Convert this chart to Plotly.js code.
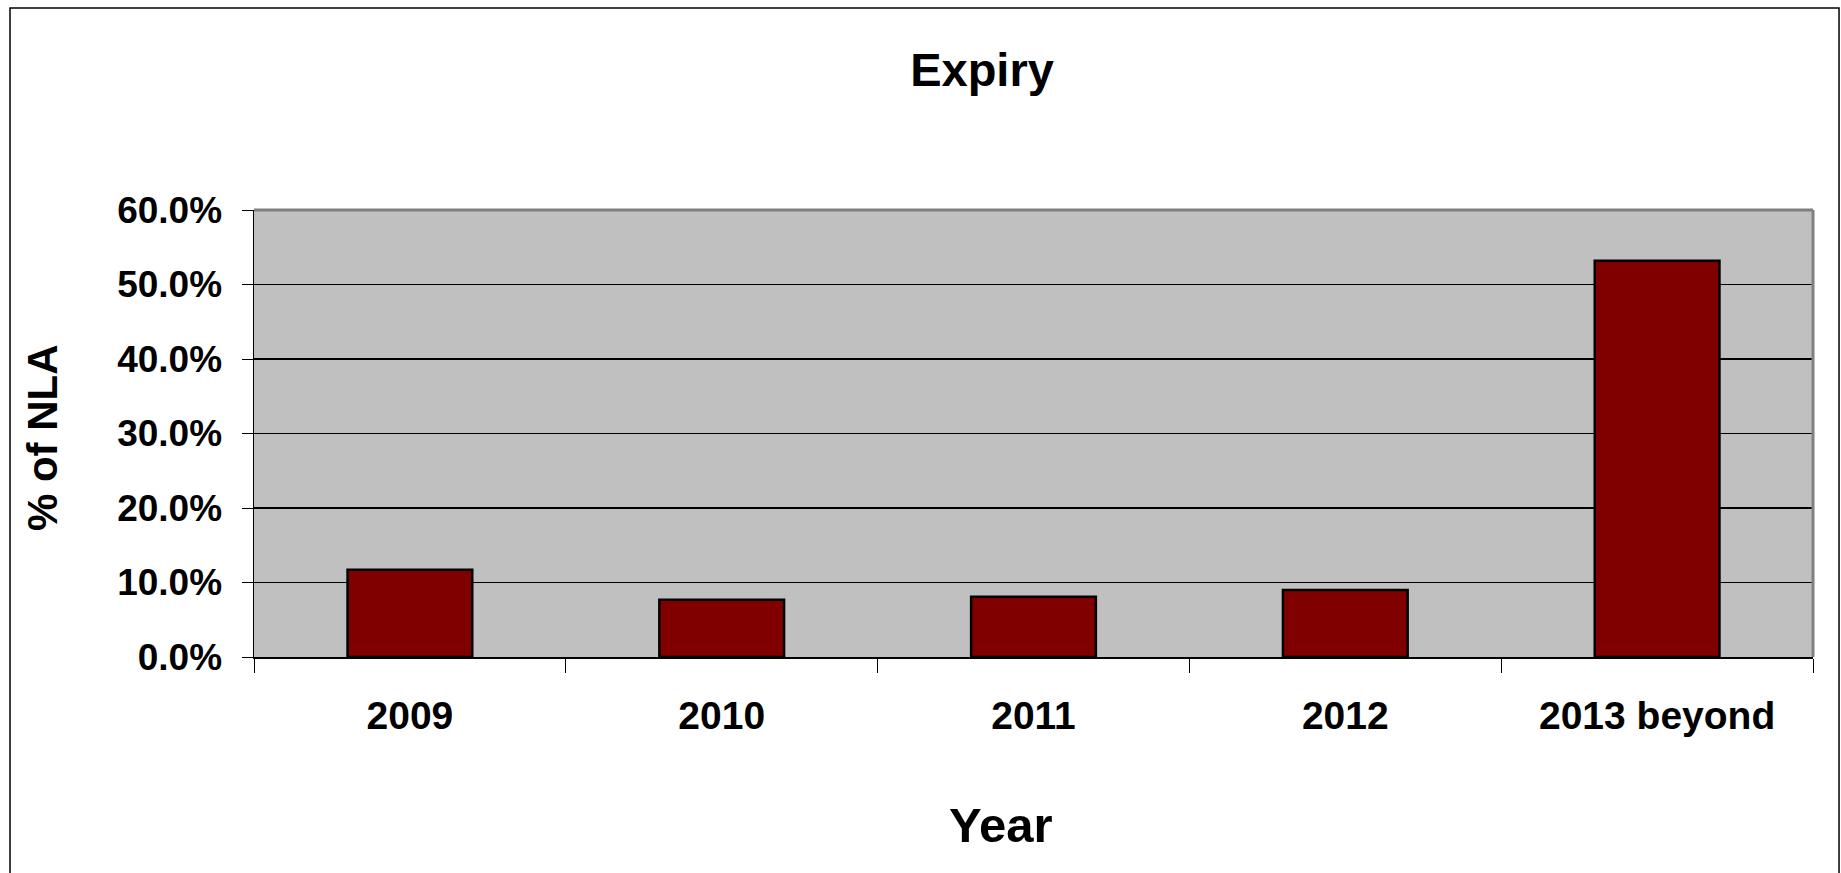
<!DOCTYPE html>
<html>
<head>
<meta charset="utf-8">
<script src="https://cdn.plot.ly/plotly-3.0.1.min.js"></script>
<style>html,body{margin:0;padding:0;background:#fff;}#chart{width:1841px;height:873px;}</style>
</head>
<body>
<div id="chart"></div>
<script>
const categories = ["2009", "2010", "2011", "2012", "2013 beyond"];
const nlaShare = [0.117, 0.077, 0.081, 0.090, 0.532];
const yTickVals = [0, 0.1, 0.2, 0.3, 0.4, 0.5, 0.6];
const chartTitle = "Expiry";
const xTitle = "Year";
const yTitle = "% of NLA";

const boldFont = "Liberation Sans, Arial, sans-serif";

const trace = {
  type: "bar",
  x: categories,
  y: nlaShare,
  marker: {color: "#800000", line: {color: "#000000", width: 2.5}},
  hoverinfo: "x+y"
};

const layout = {
  width: 1841,
  height: 873,
  margin: {l: 254, r: 28, t: 210, b: 216, pad: 0},
  paper_bgcolor: "#ffffff",
  plot_bgcolor: "#c0c0c0",
  showlegend: false,
  bargap: 0.6,
  title: {
    text: "<b>" + chartTitle + "</b>",
    font: {family: boldFont, size: 47, color: "#000"},
    x: 0.5334, xref: "container", xanchor: "center",
    y: 1 - 70 / 873, yref: "container", yanchor: "middle"
  },
  xaxis: {
    type: "category",
    range: [-0.5, 4.5],
    showgrid: false,
    zeroline: false,
    showline: true, linecolor: "#000", linewidth: 1.5,
    ticks: "outside", tickson: "boundaries", ticklen: 14, tickcolor: "#000", tickwidth: 1,
    tickfont: {family: boldFont, size: 39, color: "#000", weight: "bold"},
    ticklabelstandoff: 24
  },
  yaxis: {
    range: [0, 0.6],
    tickvals: yTickVals,
    tickformat: ".1%",
    showgrid: true, gridcolor: "#000", gridwidth: 1.5,
    zeroline: false,
    showline: true, linecolor: "#000", linewidth: 1.5,
    ticks: "outside", ticklen: 11, tickcolor: "#000", tickwidth: 1,
    tickfont: {family: boldFont, size: 37, color: "#000", weight: "bold"},
    ticklabelstandoff: 12
  },
  shapes: [
    {type: "line", xref: "paper", yref: "paper", x0: 0, x1: 1, y0: 1, y1: 1, line: {color: "#808080", width: 3}},
    {type: "line", xref: "paper", yref: "paper", x0: 1, x1: 1, y0: 0, y1: 1, line: {color: "#808080", width: 3}},
    {type: "rect", xref: "paper", yref: "paper", x0: -0.1565, x1: 1.0167, y0: -0.6, y1: 1.452, line: {color: "#000", width: 1.5}, fillcolor: "rgba(0,0,0,0)"}
  ],
  annotations: [
    {text: "<b>" + xTitle + "</b>", xref: "paper", yref: "paper", x: 0.479, y: -0.376, xanchor: "center", yanchor: "middle", showarrow: false,
     font: {family: boldFont, size: 49, color: "#000"}},
    {text: "<b>" + yTitle + "</b>", xref: "paper", yref: "paper", x: -0.136, y: 0.492, xanchor: "center", yanchor: "middle", showarrow: false, textangle: -90,
     font: {family: boldFont, size: 42, color: "#000"}}
  ]
};

Plotly.newPlot("chart", [trace], layout, {displayModeBar: false, staticPlot: true});
</script>
</body>
</html>
